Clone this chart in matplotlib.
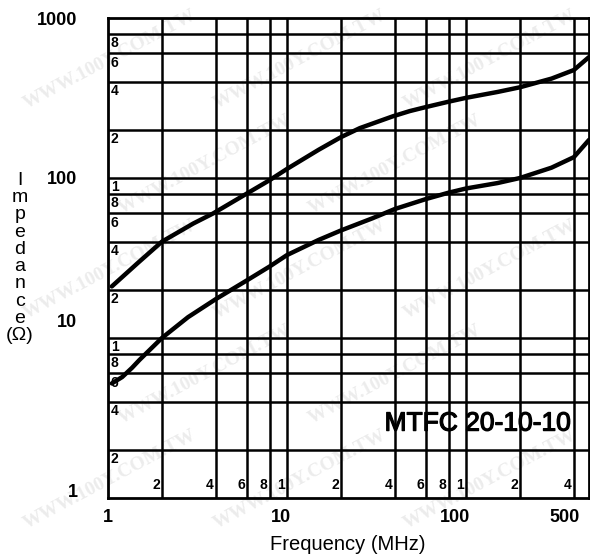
import numpy as np
import matplotlib
matplotlib.use("Agg")
import matplotlib.pyplot as plt
import matplotlib.patheffects as pe
from matplotlib import font_manager

# impedance curves (MHz, ohm)
freq_hi = [1.05, 1.47, 2.0, 3.0, 3.86, 5.97, 8.0, 10, 15, 20, 25.5, 39, 48.5, 60, 80, 100, 150, 200, 300, 400, 486]
imp_hi = [21, 29.5, 40, 52, 60, 80, 97, 114, 150, 180, 205, 243, 262, 278, 300, 317, 345, 369, 418, 473, 570]

freq_lo = [1.05, 1.2, 1.36, 1.5, 2.0, 2.8, 4.0, 6.0, 8.0, 10, 15, 20, 30, 40, 60, 80, 100, 150, 200, 300, 400, 486]
imp_lo = [5.2, 5.7, 6.5, 7.3, 10, 13.5, 17.5, 23, 28, 33, 41, 47, 56, 64, 74, 81, 86, 93, 100, 116, 135, 173]

# grid lines (the chart paper) and their little inner numbers
grid_x = [2, 4, 6, 8, 10, 20, 40, 60, 80, 100, 200, 400]
grid_y = [2, 4, 6, 8, 10, 20, 40, 60, 80, 100, 200, 400, 600, 800]

x_labels = ["1", "10", "100", "500"]
y_labels = ["1000", "100", "10", "1"]

ylabel_letters = ["I", "m", "p", "e", "d", "a", "n", "c", "e", "(\u03a9)"]
part_name = "MTFC 20-10-10"
watermark = "WWW.100Y.COM.TW"

names = set(f.name for f in font_manager.fontManager.ttflist)
narrow = "Liberation Sans Narrow" if "Liberation Sans Narrow" in names else "Liberation Sans"
sans = "Liberation Sans"

W, H = 590, 559
fig = plt.figure(figsize=(W / 100, H / 100), dpi=100)
fig.patch.set_facecolor("white")

# faint watermark tiles behind everything, kept inside the picture
for row in range(5):
    cols = [110, 300, 490] if row % 2 == 0 else [205, 395]
    for cx in cols:
        cy = 60 + row * 105
        fig.text(cx / W, 1 - cy / H, watermark, rotation=28, fontsize=14, weight="bold",
                 family="Liberation Serif", color="#ececec", zorder=-5,
                 ha="center", va="center")

ax = fig.add_axes([108 / W, 1 - 498 / H, (589 - 108) / W, 480 / H])
ax.set_facecolor("none")
ax.set_xscale("log")
ax.set_yscale("log")
ax.set_xlim(1, 486)
ax.set_ylim(1, 1000)

ax.plot(freq_hi, imp_hi, color="black", lw=3.2, solid_capstyle="round", zorder=4)
ax.plot(freq_lo, imp_lo, color="black", lw=3.2, solid_capstyle="round", zorder=4)

# major ticks carry the grid, minor ticks carry the outer labels
ax.set_xticks(grid_x)
ax.set_xticklabels([""] * len(grid_x))
ax.set_yticks(grid_y)
ax.set_yticklabels([""] * len(grid_y))
ax.set_xticks([1.0, 9.27, 86.8, 357], minor=True)
ax.set_xticklabels(x_labels, minor=True, fontsize=13, weight="bold", family=narrow)
ax.set_yticks([986, 101, 12.8, 1.12], minor=True)
ax.set_yticklabels(y_labels, minor=True, fontsize=13, weight="bold", family=narrow)
ax.tick_params(which="both", length=0)
ax.tick_params(axis="x", which="minor", pad=8)
ax.tick_params(axis="y", which="minor", pad=22)
ax.grid(True, which="major", color="black", lw=1.8)
ax.grid(False, which="minor")
for s in ax.spines.values():
    s.set_linewidth(2.0)

# small numbers printed on the chart paper
for v in grid_y:
    ax.text(0.006, v * 0.97, str(v)[0], transform=ax.get_yaxis_transform(),
            fontsize=10, weight="bold", family=narrow, ha="left", va="top", zorder=3)
for v in grid_x:
    ax.text(v * 0.975, 0.012, str(v)[0], transform=ax.get_xaxis_transform(),
            fontsize=10, weight="bold", family=narrow, ha="right", va="bottom", zorder=3)

ax.text(0.575, 0.155, part_name, transform=ax.transAxes, fontsize=19,
        family=sans, ha="left", va="center", zorder=5,
        path_effects=[pe.withStroke(linewidth=0.9, foreground="black")])

fig.text(348 / W, 1 - 544 / H, "Frequency (MHz)", fontsize=14.5, family=sans,
         ha="center", va="center")
fig.text(20 / W, 1 - 258 / H, "\n".join(ylabel_letters), fontsize=14, family=sans,
         ha="center", va="center", multialignment="center", linespacing=1.02)

fig.savefig("out.png", dpi=100)
